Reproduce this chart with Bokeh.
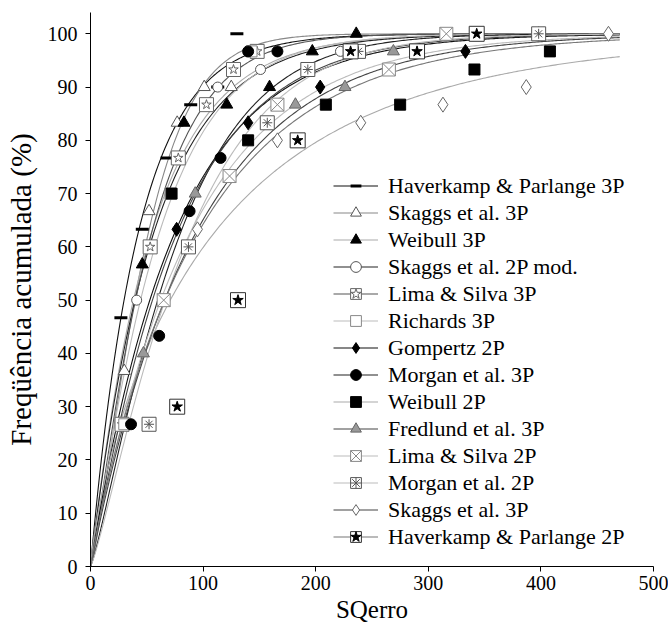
import numpy as np
from bokeh.plotting import figure
from bokeh.models import Range1d, Legend, LegendItem, FixedTicker
from bokeh.embed import file_html
from bokeh.resources import INLINE

# ---- observed points (SQerro, cumulative frequency %) ----
hp3_x = [27, 46, 68, 89, 113, 130]
hp3_y = [46.7, 63.3, 76.7, 86.7, 90.0, 100.0]
sk3_x = [30, 52, 77, 101, 125]
sk3_y = [36.7, 66.7, 83.3, 90.0, 90.0]
wb3_x = [46, 83, 121, 159, 197, 236]
wb3_y = [56.7, 83.3, 86.7, 90.0, 96.7, 100.0]
sk2m_x = [41, 113, 151, 222]
sk2m_y = [50.0, 90.0, 93.3, 96.7]
ls3_x = [28, 53, 78, 103, 127, 148]
ls3_y = [26.7, 60.0, 76.7, 86.7, 93.3, 96.7]
ri3_x = [30, 71, 143]
ri3_y = [26.7, 70.0, 96.7]
gz2_x = [76.5, 140, 204, 333, 398]
gz2_y = [63.3, 83.3, 90.0, 96.7, 100.0]
mg3_x = [36, 61, 88, 115.5, 140, 166]
mg3_y = [26.7, 43.3, 66.7, 76.7, 96.7, 96.7]
wb2_x = [72, 140, 209, 275, 341, 408]
wb2_y = [70.0, 80.0, 86.7, 86.7, 93.3, 96.7]
fr3_x = [47, 93, 182, 226, 269]
fr3_y = [40.0, 70.0, 86.7, 90.0, 96.7]
ls2_x = [65, 123.5, 166, 265, 316]
ls2_y = [50.0, 73.3, 86.7, 93.3, 100.0]
mg2_x = [52, 87, 157, 193, 238, 398]
mg2_y = [26.7, 60.0, 83.3, 93.3, 96.7, 100.0]
sk3d_x = [95, 166, 240, 313, 387, 460]
sk3d_y = [63.3, 80.0, 83.3, 86.7, 90.0, 100.0]
hp2_x = [77, 131, 184, 231, 290, 343]
hp2_y = [30.0, 50.0, 80.0, 96.7, 96.7, 100.0]

# ---- fitted-curve parameters (scale b, shape c) ----
labels = ["Haverkamp & Parlange 3P", "Skaggs et al. 3P", "Weibull 3P",
          "Skaggs et al. 2P mod.", "Lima & Silva 3P", "Richards 3P",
          "Gompertz 2P", "Morgan et al. 3P", "Weibull 2P",
          "Fredlund et al. 3P", "Lima & Silva 2P", "Morgan et al. 2P",
          "Skaggs et al. 3P", "Haverkamp & Parlange 2P"]
fit_b = [43, 52, 55, 57, 55, 62, 76, 81, 112, 78, 90, 90, 95, 97]
fit_c = [1.0, 1.3, 1.0, 1.0, 1.15, 1.1, 1.0, 1.2, 0.8, 1.05, 1.0, 1.2, 1.0, 0.95]
x_max_curve = 470
x_ticks = [0, 100, 200, 300, 400, 500]
y_ticks = list(range(0, 101, 10))

FONT = "Liberation Serif"

p = figure(width=668, height=631, output_backend="svg", toolbar_location=None,
           x_range=Range1d(0, 500), y_range=Range1d(0, 104),
           min_border_left=90, min_border_right=15, min_border_top=12,
           min_border_bottom=65)
p.outline_line_color = None
p.grid.visible = False
p.background_fill_color = "white"

p.xaxis.ticker = FixedTicker(ticks=x_ticks)
p.yaxis.ticker = FixedTicker(ticks=y_ticks)
for ax in (p.xaxis, p.yaxis):
    ax.minor_tick_line_color = None
    ax.major_tick_in = 0
    ax.major_tick_out = 5
    ax.axis_line_color = "black"
    ax.major_tick_line_color = "black"
    ax.major_label_text_font = FONT
    ax.major_label_text_font_size = "20px"
    ax.major_label_text_color = "black"
    ax.axis_label_text_font = FONT
    ax.axis_label_text_font_style = "normal"
    ax.axis_label_text_color = "black"
p.xaxis.axis_label = "SQerro"
p.yaxis.axis_label = "Freqüência acumulada (%)"
p.xaxis.axis_label_text_font_size = "25px"
p.yaxis.axis_label_text_font_size = "29px"
p.xaxis.major_label_standoff = 4
p.xaxis.axis_label_standoff = 3
p.yaxis.major_label_standoff = 8
p.yaxis.axis_label_standoff = 8

line_colors = ["#111111", "#888888", "#aaaaaa", "#222222", "#555555", "#bbbbbb",
               "#111111", "#222222", "#aaaaaa", "#444444", "#bbbbbb", "#bbbbbb",
               "#444444", "#777777"]

xs = np.linspace(0, x_max_curve, 300)
lines = []
for b, c, col in zip(fit_b, fit_c, line_colors):
    ys = 100 * (1 - np.exp(-(xs / b) ** c))
    lines.append(p.line(xs, ys, line_color=col, line_width=1.1))

W = "white"
marks = []
marks.append([p.scatter(hp3_x, hp3_y, marker="dash", size=13, line_color="black", line_width=3)])
marks.append([p.scatter(sk3_x, sk3_y, marker="triangle", size=12, fill_color=W, line_color="#555555", line_width=1)])
marks.append([p.scatter(wb3_x, wb3_y, marker="triangle", size=12, fill_color="black", line_color="black")])
marks.append([p.scatter(sk2m_x, sk2m_y, marker="circle", size=10, fill_color=W, line_color="#555555")])
marks.append([p.scatter(ls3_x, ls3_y, marker="square", size=14, fill_color=W, line_color="#666666"),
              p.scatter(ls3_x, ls3_y, marker="star", size=10, fill_color=W, line_color="#666666")])
marks.append([p.scatter(ri3_x, ri3_y, marker="square", size=11, fill_color=W, line_color="#888888")])
marks.append([p.scatter(gz2_x, gz2_y, marker="diamond", size=14, fill_color="black", line_color="black")])
marks.append([p.scatter(mg3_x, mg3_y, marker="circle", size=11, fill_color="black", line_color="black")])
marks.append([p.scatter(wb2_x, wb2_y, marker="square", size=11, fill_color="black", line_color="black")])
marks.append([p.scatter(fr3_x, fr3_y, marker="triangle", size=12, fill_color="#999999", line_color="#666666")])
marks.append([p.scatter(ls2_x, ls2_y, marker="square_x", size=13, fill_color=W, line_color="#888888")])
marks.append([p.scatter(mg2_x, mg2_y, marker="square", size=14, fill_color=W, line_color="#555555"),
              p.scatter(mg2_x, mg2_y, marker="asterisk", size=10, line_color="#555555")])
marks.append([p.scatter(sk3d_x, sk3d_y, marker="diamond", size=15, fill_color=W, line_color="#666666")])
marks.append([p.scatter(hp2_x, hp2_y, marker="square", size=15, fill_color=W, line_color="#333333"),
              p.scatter(hp2_x, hp2_y, marker="star", size=11, fill_color="black", line_color="black")])

items = [LegendItem(label=lab, renderers=[ln] + mk) for lab, ln, mk in zip(labels, lines, marks)]
legend = Legend(items=items, location=(243, 16), border_line_color=None,
                background_fill_alpha=0, padding=0, margin=0, spacing=0,
                glyph_width=45, glyph_height=27, label_height=27, label_standoff=10,
                label_text_font=FONT, label_text_font_size="22px", label_text_color="black")
p.add_layout(legend)

open("out.html", "w").write(file_html(p, INLINE))
